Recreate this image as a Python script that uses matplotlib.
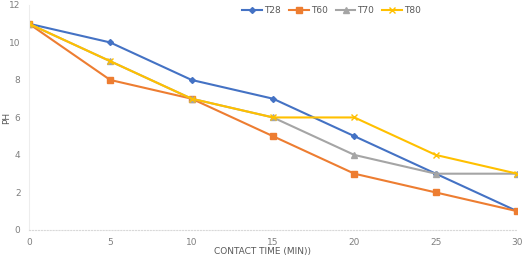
import matplotlib.pyplot as plt

# contact time (min) and pH for each temperature
time = [0, 5, 10, 15, 20, 25, 30]
t28 = [11, 10, 8, 7, 5, 3, 1]
t60 = [11, 8, 7, 5, 3, 2, 1]
t70 = [11, 9, 7, 6, 4, 3, 3]
t80 = [11, 9, 7, 6, 6, 4, 3]

fig = plt.figure(figsize=(5.24, 2.61), dpi=100)
ax = fig.add_axes([0.055, 0.119, 0.932, 0.862])

ax.plot(time, t28, '-', color='#4472C4', marker='D', markersize=3, lw=1.5, label='T28')
ax.plot(time, t60, '-', color='#ED7D31', marker='s', markersize=4, lw=1.5, label='T60')
ax.plot(time, t70, '-', color='#A5A5A5', marker='^', markersize=4, lw=1.5, label='T70')
ax.plot(time, t80, '-', color='#FFC000', marker='x', markersize=5, lw=1.5, label='T80')

ax.set_xlim(0, 30)
ax.set_ylim(0, 12)
ax.set_xticks(time)
ax.set_yticks(range(0, 13, 2))
ax.tick_params(labelsize=6.5, colors='#7F7F7F', length=0, pad=6)
for s in ['top', 'right']:
    ax.spines[s].set_visible(False)
ax.spines['left'].set_color('#EDEDED')
ax.spines['bottom'].set_color('#D9D9D9')
ax.spines['bottom'].set_linestyle(':')

fig.text(0.5, 0.035, 'CONTACT TIME (MIN))', ha='center', va='center', fontsize=6.5, color='#595959')
fig.text(0.012, 0.55, 'PH', ha='center', va='center', rotation=90, fontsize=6.5, color='#595959')

ax.legend(loc='upper center', bbox_to_anchor=(0.62, 1.03), ncol=4, frameon=False,
          fontsize=6.5, labelcolor='#595959', handlelength=2.2, columnspacing=0.9, handletextpad=0.2)

plt.savefig('out.png')
